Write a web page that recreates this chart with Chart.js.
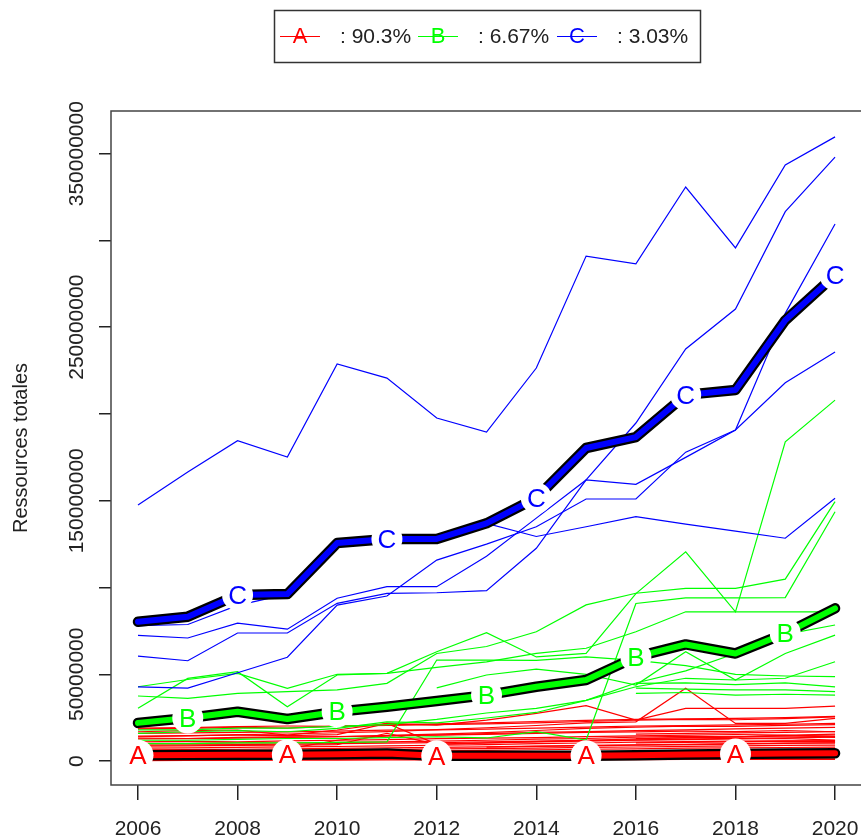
<!DOCTYPE html>
<html>
<head>
<meta charset="utf-8">
<script src="https://cdn.jsdelivr.net/npm/chart.js@4.4.1/dist/chart.umd.min.js"></script>
<style>
html,body{margin:0;padding:0;background:#fff;overflow:hidden}
#wrap{width:861px;height:837px;position:relative}
</style>
</head>
<body>
<div id="wrap"><canvas id="c" width="861" height="837"></canvas></div>
<script>
// ---------- data (values in millions) ----------
const years = [2006,2007,2008,2009,2010,2011,2012,2013,2014,2015,2016,2017,2018,2019,2020];
const xTicks = [2006,2008,2010,2012,2014,2016,2018,2020];
const yTicks = [0,50,100,150,200,250,300,350];
const yTickLabels = ['0','50000000','','150000000','','250000000','','350000000'];
const clusterNames = ['A','B','C'];
const clusterShares = [': 90.3%', ': 6.67%', ': 3.03%'];
const yTitle = 'Ressources totales';

const meanA = [3.4,3.5,3.6,3.7,3.9,4.4,3.0,3.0,3.0,3.1,3.3,3.8,4.1,4.3,4.5];
const meanB = [22,24.8,28.4,24.2,28.4,31.3,34.6,38,42.8,46.7,60,67.2,62,73.6,88];
const meanC = [80.3,83.2,95.7,96.2,125.6,128,128,137,151.6,180.4,186.7,211,213.8,254,280];

const labelYearsA = [2006,2009,2012,2015,2018];
const labelYearsB = [2007,2010,2013,2016,2019];
const labelYearsC = [2008,2011,2014,2017,2020];

const n = null;
const linesA = [
 [14.0,14.5,15.2,15.6,16.3,17.0,18.1,19.2,20.5,22.0,22.6,41.9,21.7,21.7,24.6],
 [16.9,17.5,17.9,15.0,17.9,21.7,20.7,23.6,27.5,31.9,23.6,30.4,30.4,30.4,31.7],
 [18.5,18.8,19.4,19.0,20.1,20.6,21.0,21.4,22.0,22.8,23.5,24.0,23.8,24.5,25.5],
 [14.4,14.6,14.9,14.7,15.2,21.7,9.8,10.5,11.2,12.0,12.8,13.5,14.0,14.6,15.0],
 [12.7,12.9,13.2,13.6,14.1,14.5,14.9,15.4,16.0,16.5,16.8,17.2,17.0,17.6,16.9],
 [11.1,11.3,11.0,11.6,12.0,12.4,12.9,13.2,13.5,14.1,14.5,14.9,15.3,15.0,13.7],
 [8.6,8.8,9.0,9.1,9.5,16.0,9.6,10.4,11.0,11.5,12.0,12.3,12.8,13.0,12.1],
 [2.0,2.5,3.0,7.0,12.0,14.5,15.0,15.8,16.5,17.0,17.5,18.0,18.5,19.0,19.4],
 [10.0,10.2,10.5,10.4,10.8,11.0,11.5,12.0,12.6,13.0,13.8,14.2,14.0,14.8,15.5],
 [7.5,7.6,7.9,8.2,8.4,8.8,9.1,9.5,10.0,10.4,10.9,11.2,11.5,11.6,11.8],
 [6.5,6.6,6.8,7.0,7.3,7.6,7.9,8.2,8.6,9.0,9.3,9.6,10.0,10.4,10.5],
 [5.5,5.7,5.9,6.2,6.3,6.6,7.0,7.2,7.5,7.9,8.1,8.5,8.8,9.0,9.2],
 [19.0,19.3,19.8,20.2,20.0,20.9,21.5,22.0,22.8,23.4,24.0,24.3,24.6,25.0,25.8],
 [4.5,4.7,4.8,5.1,5.4,5.6,5.9,6.1,6.5,6.8,7.0,7.4,7.6,7.8,8.0],
 [3.5,3.6,3.8,4.0,4.2,4.3,4.6,4.8,5.0,5.3,5.5,5.8,6.0,6.2,6.4],
 [2.5,2.6,2.7,2.9,3.0,3.2,3.3,3.5,3.7,3.9,4.1,4.3,4.5,4.7,4.9],
 [1.5,1.6,1.6,1.7,1.8,1.9,2.0,2.1,2.2,2.4,2.5,2.6,2.8,2.9,3.0],
 [0.8,0.8,0.9,0.9,1.0,1.0,1.1,1.2,1.2,1.3,1.4,1.5,1.5,1.6,1.7],
 [16.0,16.2,16.5,16.8,17.2,17.8,18.0,18.4,19.0,19.5,20.2,20.5,20.8,21.2,21.7],
 [n,n,n,n,n,n,n,n,n,n,15.5,16.0,16.2,16.5,17.0],
 [n,n,n,n,n,n,n,n,n,n,13.0,13.4,13.8,14.5,14.2],
 [n,n,n,n,n,n,n,n,n,n,10.5,10.8,11.0,11.5,11.2],
 [9.2,9.3,9.5,9.8,10.0,10.3,10.6,11.0,11.5,11.9,12.2,12.6,13.1,13.4,13.8],
 [0.3,0.4,0.4,0.5,0.5,0.6,0.6,0.7,0.7,0.8,0.8,0.9,0.9,1.0,1.0],
 [n,n,n,n,n,n,n,8.0,8.5,8.8,9.2,9.5,9.8,10.2,10.5],
 [13.2,13.0,13.6,13.9,14.0,14.8,15.5,16.4,17.6,18.8,19.5,20.1,20.0,20.6,21.0]
];
const linesB = [
 [42.8,47,50.5,41.9,50,50.5,63,74,60,62,96.5,120.6,86,184,208],
 [37.5,36.1,39,40,41,44.8,62,66,74.5,90,96.7,99.5,99.5,104.8,149.5],
 [12,12,12.5,13,13,13.5,14,13.3,16.9,12.1,90.8,94,94,94.2,143.7],
 [10,10,10.5,10.5,10.8,11.1,58.2,58.2,58,60,58,55,50,49,48.6],
 [30.4,47.6,51.5,31.3,49.6,50.5,54,57.2,62,65,74.5,86,86,86,86],
 [16,16.9,17.5,16.9,18.8,22.6,22,24.8,28,35,45,52,62,73,78.4],
 [n,n,n,n,n,n,42.2,49.6,53,50,43.8,63,46.7,62,72.6],
 [18,18,19,19,20,21,24,27.7,30.4,35,42.8,47.7,46.7,47.7,57.2],
 [n,n,n,n,n,n,n,n,n,n,44.8,45,44,45,42.8],
 [n,n,n,n,n,n,n,n,n,n,42,41.5,41,41,40],
 [n,n,n,n,n,n,n,n,n,n,39,39.5,38,38.5,38]
];
const linesC = [
 [147.6,166.6,184.6,175.2,228.8,220.7,197.7,189.6,226.5,291,286.5,330.8,295.7,343.5,359.7],
 [60.5,57.8,73.8,73.8,90.9,96.6,97,98.2,122.6,162,194.8,237.5,260.5,316.6,348],
 [72.4,70.9,79.5,76,93.8,100.5,100.5,118,140,162,159.5,175,190.8,258,309.5],
 [42.8,42,50.9,59.8,89.9,95.1,115.8,125,135,151,151,178,190.8,218,235.7],
 [78,78.7,89.7,96.2,124.6,127,128.8,137,129.4,135,140.8,136.5,132.5,128.4,151.4]
];

// ---------- build ----------
const UNIT = 1e6;
const colA = '#FF0000', colB = '#00FF00', colC = '#0000FF';
const FONT = '"Liberation Sans", Arial, Helvetica, sans-serif';
const pts = arr => arr.map((v,i) => ({x: years[i], y: v == null ? null : v*UNIT}));

const datasets = [];
function thin(lines, color, order){
  lines.forEach(l => datasets.push({data: pts(l), borderColor: color, borderWidth: 1.2,
    pointRadius: 0, tension: 0, spanGaps: false, order: order, fill: false}));
}
thin(linesA, colA, 100);
thin(linesB, colB, 90);
thin(linesC, colC, 80);
function mean(arr, color, o){
  datasets.push({data: pts(arr), borderColor: '#000', borderWidth: 10.5, pointRadius: 0,
    borderCapStyle: 'round', borderJoinStyle: 'round', order: o+1, fill:false});
  datasets.push({data: pts(arr), borderColor: color, borderWidth: 6, pointRadius: 0,
    borderCapStyle: 'round', borderJoinStyle: 'round', order: o, fill:false});
}
mean(meanA, colA, 30);
mean(meanB, colB, 20);
mean(meanC, colC, 10);

const labelSets = [
  {years: labelYearsA, mean: meanA, color: colA, txt: clusterNames[0]},
  {years: labelYearsB, mean: meanB, color: colB, txt: clusterNames[1]},
  {years: labelYearsC, mean: meanC, color: colC, txt: clusterNames[2]}
];

const decor = {
  id: 'decor',
  afterDatasetsDraw(chart){
    const {ctx, scales:{x, y}} = chart;
    ctx.save();
    labelSets.forEach(s => {
      s.years.forEach(yr => {
        const v = s.mean[years.indexOf(yr)];
        const px = x.getPixelForValue(yr), py = y.getPixelForValue(v*UNIT);
        ctx.beginPath(); ctx.fillStyle = '#fff';
        ctx.arc(px, py, 15.5, 0, Math.PI*2); ctx.fill();
        ctx.fillStyle = s.color; ctx.font = '26px ' + FONT;
        ctx.textAlign = 'center'; ctx.textBaseline = 'middle';
        ctx.fillText(s.txt, px, py + 1.5);
      });
    });
    ctx.restore();
  },
  afterDraw(chart){
    const {ctx, chartArea:a, scales:{y}} = chart;
    ctx.save();
    // box (left, top, bottom)
    ctx.strokeStyle = '#444'; ctx.lineWidth = 1.5;
    ctx.beginPath();
    ctx.moveTo(chart.width + 5, a.top); ctx.lineTo(a.left, a.top);
    ctx.lineTo(a.left, a.bottom); ctx.lineTo(chart.width + 5, a.bottom);
    ctx.stroke();
    // y tick labels rotated
    ctx.fillStyle = '#222'; ctx.font = '21px ' + FONT;
    ctx.textAlign = 'center'; ctx.textBaseline = 'middle';
    yTicks.forEach((t, i) => {
      if (!yTickLabels[i]) return;
      const py = y.getPixelForValue(t*UNIT);
      ctx.save(); ctx.translate(77, py); ctx.rotate(-Math.PI/2);
      ctx.fillText(yTickLabels[i], 0, 0); ctx.restore();
    });
    // y title
    ctx.save(); ctx.translate(21, (a.top + a.bottom)/2); ctx.rotate(-Math.PI/2);
    ctx.font = '20px ' + FONT; ctx.fillText(yTitle, 0, 0); ctx.restore();
    // legend
    ctx.strokeStyle = '#333'; ctx.lineWidth = 1.5;
    ctx.strokeRect(274.5, 10.5, 426, 52);
    const lx = [280, 418, 557], cols = [colA, colB, colC];
    lx.forEach((x0, i) => {
      ctx.strokeStyle = cols[i]; ctx.lineWidth = 1.2;
      ctx.beginPath(); ctx.moveTo(x0, 36.5); ctx.lineTo(x0 + 40, 36.5); ctx.stroke();
      ctx.fillStyle = cols[i]; ctx.font = '22px ' + FONT;
      ctx.textAlign = 'center'; ctx.textBaseline = 'middle';
      ctx.fillText(clusterNames[i], x0 + 20, 37);
      ctx.fillStyle = '#222'; ctx.textAlign = 'left'; ctx.font = '21px ' + FONT;
      ctx.fillText(clusterShares[i], x0 + 60, 37);
    });
    ctx.restore();
  }
};

new Chart(document.getElementById('c'), {
  type: 'line',
  data: {datasets},
  options: {
    responsive: false, animation: false, events: [],
    layout: {padding: {top: 111, right: 0, left: 0, bottom: 0}},
    plugins: {legend: {display: false}, tooltip: {enabled: false}},
    scales: {
      x: {
        type: 'linear', min: 2005.458, max: 2020.521,
        afterBuildTicks: s => { s.ticks = xTicks.map(v => ({value: v})); },
        afterFit: s => { s.height = 52; s.paddingLeft = 0; s.paddingRight = 0; },
        grid: {drawOnChartArea: false, drawTicks: true, tickLength: 15, color: '#222', lineWidth: 1.5},
        border: {display: false},
        ticks: {color: '#222', font: {size: 21, family: FONT}, padding: 17, maxRotation: 0, autoSkip: false,
                callback: v => String(v)}
      },
      y: {
        type: 'linear', min: -13.8*UNIT, max: 374.6*UNIT,
        afterBuildTicks: s => { s.ticks = yTicks.map(v => ({value: v*UNIT})); },
        afterFit: s => { s.width = 111; s.paddingTop = 0; s.paddingBottom = 0; },
        grid: {drawOnChartArea: false, drawTicks: true, tickLength: 12, color: '#222', lineWidth: 1.5},
        border: {display: false},
        ticks: {display: false}
      }
    }
  },
  plugins: [decor]
});
</script>
</body>
</html>
